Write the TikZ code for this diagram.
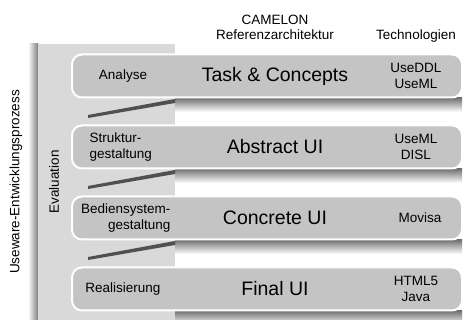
\documentclass[tikz,border=0pt]{standalone}
\usepackage{fontspec}
\setmainfont{Liberation Sans}
\usetikzlibrary{positioning}

\definecolor{panelgray}{HTML}{D9D9D9}
\definecolor{rowgray}{HTML}{C4C4C4}
\definecolor{wedgegray}{HTML}{505050}

\tikzset{
  layer/.style={rectangle, rounded corners=10pt, draw=white, line width=2pt, fill=rowgray,
    minimum width=390pt, minimum height=43pt, anchor=west},
  phase/.style={font=\fontsize{13.5}{16}\selectfont, align=left},
  model/.style={font=\fontsize{19.5}{22}\selectfont},
  tech/.style={font=\fontsize{13.5}{16.5}\selectfont, align=center},
  head/.style={font=\fontsize{13.5}{15.5}\selectfont, align=center},
}

\begin{document}
\begin{tikzpicture}[x=1pt,y=-1pt]
  \useasboundingbox (0,0) rectangle (464,320);

  % Schatten und Evaluationsbalken
  \shade[left color=white, right color=black!50] (28,44) rectangle (38,320);
  \fill[panelgray] (38,44) rectangle (175,320);
  \foreach \b in {98,169,240,311} {
    \shade[top color=black!55, bottom color=white] (175,\b) rectangle (462,\b+14);
  }
  \foreach \b in {98,169,240} {
    \fill[wedgegray] (88,\b+17) -- (175,\b+1) -- (175,\b+5) -- (88,\b+20) -- cycle;
  }

  % Ebenen
  \node[layer] (row1) at (71,76) {};
  \node[layer] (row2) at (71,147) {};
  \node[layer] (row3) at (71,218) {};
  \node[layer] (row4) at (71,289) {};

  % Ueberschriften
  \node[head] (camelon) at (275,25) [anchor=base] {CAMELON};
  \node[head] (refarch) at (275,40) [anchor=base] {Referenzarchitektur};
  \node[head] (techhead) at (416,40) [anchor=base] {Technologien};

  % Prozess und Evaluation
  \node[head, rotate=90] (process) at (16,182) {Useware-Entwicklungsprozess};
  \node[head, rotate=90] (evaluation) at (54,182) {Evaluation};

  % Phasen
  \node[phase] (analyse) at (123,76) {Analyse};
  \node[phase, anchor=west] (struktur) at (86,147) {Struktur-\\gestaltung};
  \node[phase, align=right, anchor=east] (bedien) at (174,218) {Bediensystem-\\gestaltung};
  \node[phase] (real) at (123,289) {Realisierung};

  % Modelle
  \node[model] (task) at (275,76) {Task \& Concepts};
  \node[model] (abstract) at (275,147) {Abstract UI};
  \node[model] (concrete) at (275,218) {Concrete UI};
  \node[model] (final) at (275,289) {Final UI};

  % Technologien
  \node[tech] (tech1) at (416,76) {UseDDL\\UseML};
  \node[tech] (tech2) at (416,147) {UseML\\DISL};
  \node[tech] (tech3) at (420,218) {Movisa};
  \node[tech] (tech4) at (416,289) {HTML5\\Java};
\end{tikzpicture}
\end{document}
